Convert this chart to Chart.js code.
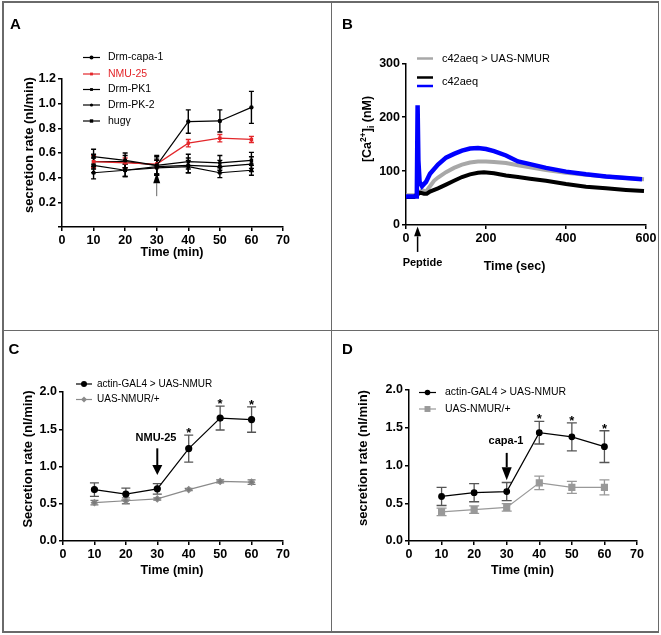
<!DOCTYPE html>
<html>
<head>
<meta charset="utf-8">
<script src="https://cdn.jsdelivr.net/npm/chart.js@4.4.1/dist/chart.umd.min.js"></script>
<style>
  body { margin: 0; background: #fff; }
  #fig { position: relative; width: 661px; height: 635px; overflow: hidden; }
  #fig canvas { position: absolute; left: 0; top: 0; }
  .rule { position: absolute; background: #6a6a6a; }
</style>
</head>
<body>
<div id="fig">
  <div class="rule" style="left:2px;top:1px;width:657px;height:1.5px"></div>
  <div class="rule" style="left:2px;top:631px;width:657px;height:1.5px"></div>
  <div class="rule" style="left:2px;top:1px;width:1.5px;height:632px"></div>
  <div class="rule" style="left:657.5px;top:1px;width:1.5px;height:632px"></div>
  <div class="rule" style="left:330.5px;top:1px;width:1.5px;height:632px"></div>
  <div class="rule" style="left:2px;top:329.5px;width:657px;height:1.5px"></div>
  <canvas id="chartA" width="661" height="635"></canvas>
  <canvas id="chartB" width="661" height="635"></canvas>
  <canvas id="chartC" width="661" height="635"></canvas>
  <canvas id="chartD" width="661" height="635"></canvas>
</div>
<script>
// ---- data ----
const minutes = [10, 20, 30, 40, 50, 60]

// A: secretion rate per peptide
const capa1 = [0.57, 0.54, 0.50, 0.855, 0.86, 0.97]
const capa1Err = [0.06, 0.06, 0.08, 0.095, 0.09, 0.13]
const nmu25 = [0.53, 0.52, 0.51, 0.68, 0.72, 0.71]
const nmu25Err = [0.05, 0.04, 0.03, 0.03, 0.03, 0.025]
const pk1 = [0.53, 0.53, 0.50, 0.53, 0.52, 0.54]
const pk1Err = [0.06, 0.05, 0.07, 0.06, 0.06, 0.065]
const pk2 = [0.50, 0.46, 0.49, 0.50, 0.49, 0.51]
const pk2Err = [0.06, 0.05, 0.06, 0.06, 0.05, 0.06]
const hugG = [0.44, 0.46, 0.48, 0.49, 0.44, 0.46]
const hugGErr = [0.05, 0.05, 0.06, 0.05, 0.04, 0.04]

// B: [Ca2+]i traces (sec, nM)
const blueSec = [0, 10, 20, 27, 29, 31, 34, 40, 50, 60, 80, 100, 120, 140, 160, 180, 200, 220, 250, 280, 310, 350, 400, 450, 500, 550, 590]
const blueCa = [53, 53, 53, 53, 222, 120, 80, 72, 80, 95, 112, 125, 132, 138, 142, 143, 141, 137, 129, 118, 113, 106, 99, 94, 90, 87, 85]
const greySec = [0, 20, 30, 40, 50, 60, 70, 80, 100, 120, 140, 160, 180, 200, 220, 250, 280, 310, 350, 400, 450, 500, 550, 595]
const greyCa = [55, 55, 58, 65, 62, 72, 82, 88, 98, 106, 112, 116, 118, 118, 117, 115, 111, 107, 102, 97, 93, 90, 87, 85]
const blackSec = [0, 20, 35, 45, 52, 60, 80, 100, 120, 140, 160, 180, 195, 220, 250, 280, 310, 350, 400, 450, 500, 550, 595]
const blackCa = [52, 52, 60, 58, 58, 62, 68, 75, 82, 89, 94, 97, 98, 96, 92, 89, 86, 82, 76, 71, 68, 65, 63]

// C: NMU-25
const cActin = [0.69, 0.63, 0.70, 1.24, 1.65, 1.63]
const cActinErr = [0.09, 0.08, 0.07, 0.18, 0.16, 0.17]
const cUas = [0.515, 0.54, 0.565, 0.69, 0.80, 0.79]
const cUasErr = [0.03, 0.04, 0.015, 0.015, 0.02, 0.03]

// D: capa-1
const dActin = [0.59, 0.64, 0.655, 1.435, 1.38, 1.25]
const dActinErr = [0.12, 0.12, 0.12, 0.15, 0.185, 0.21]
const dUas = [0.385, 0.415, 0.445, 0.77, 0.71, 0.71]
const dUasErr = [0.05, 0.05, 0.05, 0.09, 0.08, 0.10]

// ---- layout helpers ----
const FONT = '"Liberation Sans", Arial, sans-serif'
const W = 661, H = 635
const AXIS_W = 50, AXIS_H = 30

const pts = (xs, ys) => xs.map((x, i) => ({ x: x, y: ys[i] }))

function layoutFor(area) {
  return { padding: { left: area.left - AXIS_W, top: area.top, right: W - area.right, bottom: H - area.bottom - AXIS_H } }
}

function makeScales(xMax, xStep, yMax, yStep, yLabel) {
  const tickFont = { family: FONT, size: 12.5, weight: 'bold' }
  const border = { display: true, color: '#000', width: 1.5 }
  const grid = { display: true, drawOnChartArea: false, drawTicks: true, tickLength: 4, color: '#000', lineWidth: 1.5 }
  return {
    x: {
      type: 'linear', min: 0, max: xMax, border: border, grid: grid,
      ticks: { stepSize: xStep, font: tickFont, color: '#000', padding: 2, maxRotation: 0, autoSkip: false },
      afterFit: (s) => { s.height = AXIS_H },
    },
    y: {
      type: 'linear', min: 0, max: yMax, border: border, grid: grid,
      ticks: { stepSize: yStep, font: tickFont, color: '#000', padding: 2, callback: yLabel },
      afterFit: (s) => { s.width = AXIS_W },
    },
  }
}

function marker(ctx, style, r, x, y, color) {
  ctx.fillStyle = color
  ctx.strokeStyle = color
  Chart.helpers.drawPoint(ctx, { pointStyle: style, radius: r, borderWidth: 0, rotation: 0 }, x, y)
}

// error bars, arrows, stars, titles and legends
const figurePlugin = {
  id: 'figure',
  beforeDatasetsDraw(chart) {
    const { ctx, scales: { x, y } } = chart
    chart.data.datasets.forEach((ds) => {
      if (!ds.errors) return
      ctx.save()
      ctx.strokeStyle = ds.errorColor
      ctx.lineWidth = ds.errorWidth || 1.3
      ds.data.forEach((p, j) => {
        const px = x.getPixelForValue(p.x)
        const top = y.getPixelForValue(p.y + ds.errors[j])
        const bot = y.getPixelForValue(p.y - ds.errors[j])
        const c = ds.capHalf || 3
        ctx.beginPath()
        ctx.moveTo(px, top); ctx.lineTo(px, bot)
        ctx.moveTo(px - c, top); ctx.lineTo(px + c, top)
        ctx.moveTo(px - c, bot); ctx.lineTo(px + c, bot)
        ctx.stroke()
      })
      ctx.restore()
    })
  },
  afterDraw(chart, args, o) {
    const { ctx, scales: { x, y } } = chart
    ctx.save()
    ctx.fillStyle = '#000'

    // panel letter
    ctx.font = 'bold 15px ' + FONT
    ctx.textAlign = 'left'
    ctx.textBaseline = 'alphabetic'
    ctx.fillText(o.letter.text, o.letter.x, o.letter.y)

    // x title
    ctx.font = 'bold 12.5px ' + FONT
    ctx.textAlign = 'center'
    ctx.textBaseline = 'middle'
    ctx.fillText(o.xTitle.text, o.xTitle.x, o.xTitle.y)

    // y title (rotated), may have super/subscript parts
    ctx.save()
    ctx.translate(o.yTitle.x, o.yTitle.y)
    ctx.rotate(-Math.PI / 2)
    const parts = o.yTitle.parts || [[o.yTitle.text, 13, 0]]
    let total = 0
    parts.forEach((p) => { ctx.font = 'bold ' + p[1] + 'px ' + FONT; total += ctx.measureText(p[0]).width })
    let tx = -total / 2
    ctx.textAlign = 'left'
    ctx.textBaseline = o.yTitle.parts ? 'alphabetic' : 'middle'
    parts.forEach((p) => {
      ctx.font = 'bold ' + p[1] + 'px ' + FONT
      ctx.fillText(p[0], tx, p[2])
      tx += ctx.measureText(p[0]).width
    })
    ctx.restore()

    // legend
    const lg = o.legend
    lg.rows.forEach((row) => {
      row.lines.forEach((ln) => {
        ctx.strokeStyle = ln.color
        ctx.lineWidth = ln.width
        ctx.beginPath()
        ctx.moveTo(lg.x0, ln.y); ctx.lineTo(lg.x1, ln.y)
        ctx.stroke()
        if (ln.marker) marker(ctx, ln.marker, ln.r, (lg.x0 + lg.x1) / 2, ln.y, ln.color)
      })
      ctx.fillStyle = row.color || '#000'
      ctx.font = lg.font + 'px ' + FONT
      ctx.textAlign = 'left'
      ctx.textBaseline = 'middle'
      ctx.fillText(row.text, lg.textX, row.y)
    })

    // arrows at data positions
    ;(o.arrows || []).forEach((a) => {
      const px = x.getPixelForValue(a.x)
      const tip = y.getPixelForValue(a.tip)
      const base = y.getPixelForValue(a.base)
      const tail = y.getPixelForValue(a.tail)
      ctx.strokeStyle = a.shaftColor
      ctx.lineWidth = a.shaftW
      ctx.beginPath()
      ctx.moveTo(px, tail); ctx.lineTo(px, base)
      ctx.stroke()
      ctx.fillStyle = '#000'
      ctx.beginPath()
      ctx.moveTo(px, tip)
      ctx.lineTo(px - a.headW / 2, base)
      ctx.lineTo(px + a.headW / 2, base)
      ctx.closePath()
      ctx.fill()
    })

    // notes
    ;(o.notes || []).forEach((n) => {
      ctx.fillStyle = '#000'
      ctx.font = 'bold ' + n.size + 'px ' + FONT
      ctx.textAlign = 'center'
      ctx.textBaseline = 'alphabetic'
      ctx.fillText(n.text, n.x, n.y)
    })

    // significance stars above error bars of the first dataset
    if (o.stars) {
      const ds = chart.data.datasets[0]
      ctx.fillStyle = '#000'
      ctx.font = 'bold 13px ' + FONT
      ctx.textAlign = 'center'
      ctx.textBaseline = 'alphabetic'
      o.stars.forEach((j) => {
        const p = ds.data[j]
        ctx.fillText('*', x.getPixelForValue(p.x), y.getPixelForValue(p.y + ds.errors[j]) + 2)
      })
    }
    ctx.restore()
  },
}

function baseOptions(area, scales, fig) {
  return {
    responsive: false,
    animation: false,
    events: [],
    layout: layoutFor(area),
    elements: { line: { tension: 0 } },
    plugins: { legend: { display: false }, tooltip: { enabled: false }, figure: fig },
    scales: scales,
  }
}

const oneDecimal = (v) => v.toFixed(1)

// ---- panel A ----
const RED = '#e3262a'
function aSet(label, vals, errs, color, style) {
  return {
    label: label, data: pts(minutes, vals), errors: errs, errorColor: color, errorWidth: 1.4, capHalf: 2.5,
    borderColor: color, backgroundColor: color, borderWidth: 1.2, pointRadius: 1.6, pointStyle: style,
  }
}
new Chart(document.getElementById('chartA'), {
  type: 'line',
  data: {
    datasets: [
      aSet('Drm-capa-1', capa1, capa1Err, '#000', 'circle'),
      aSet('NMU-25', nmu25, nmu25Err, RED, 'rect'),
      aSet('Drm-PK1', pk1, pk1Err, '#000', 'rect'),
      aSet('Drm-PK-2', pk2, pk2Err, '#000', 'circle'),
      aSet('hugγ', hugG, hugGErr, '#000', 'rect'),
    ],
  },
  options: baseOptions(
    { left: 62, right: 283, top: 79, bottom: 227 },
    makeScales(70, 10, 1.2, 0.2, (v) => (v === 0 ? '' : v.toFixed(1))),
    {
      letter: { text: 'A', x: 10, y: 28.5 },
      xTitle: { text: 'Time (min)', x: 172, y: 253 },
      yTitle: { text: 'secretion rate (nl/min)', x: 29, y: 145 },
      legend: {
        x0: 83, x1: 100, textX: 108, font: 10.5,
        rows: [
          { text: 'Drm-capa-1', y: 57.5, lines: [{ y: 57.5, color: '#000', width: 1.2, marker: 'circle', r: 2 }] },
          { text: 'NMU-25', y: 74, color: RED, lines: [{ y: 74, color: RED, width: 1.2, marker: 'rect', r: 2 }] },
          { text: 'Drm-PK1', y: 89.5, lines: [{ y: 89.5, color: '#000', width: 1.2, marker: 'rect', r: 2 }] },
          { text: 'Drm-PK-2', y: 105, lines: [{ y: 105, color: '#000', width: 1.2, marker: 'circle', r: 1.6 }] },
          { text: 'hugγ', y: 121, lines: [{ y: 121, color: '#000', width: 1.2, marker: 'rect', r: 2.4 }] },
        ],
      },
      arrows: [{ x: 30, tip: 0.44, base: 0.355, tail: 0.25, headW: 7, shaftW: 1, shaftColor: '#666' }],
    }
  ),
  plugins: [figurePlugin],
})

// ---- panel B ----
new Chart(document.getElementById('chartB'), {
  type: 'line',
  data: {
    datasets: [
      { label: 'c42aeq', data: pts(blueSec, blueCa), borderColor: '#0000ff', borderWidth: 4.5, pointRadius: 0 },
      { label: 'c42aeq', data: pts(blackSec, blackCa), borderColor: '#000', borderWidth: 4, pointRadius: 0 },
      { label: 'c42aeq > UAS-NMUR', data: pts(greySec, greyCa), borderColor: '#a8a8a8', borderWidth: 4, pointRadius: 0 },
    ],
  },
  options: baseOptions(
    { left: 406, right: 646, top: 63.3, bottom: 225 },
    makeScales(600, 200, 300, 100, (v) => String(v)),
    {
      letter: { text: 'B', x: 342, y: 28.5 },
      xTitle: { text: 'Time (sec)', x: 514.5, y: 267 },
      yTitle: { x: 371, y: 129, parts: [['[Ca', 12.5, 0], ['2+', 8.5, -5], [']', 12.5, 0], ['i', 8.5, 3], [' (nM)', 12.5, 0]] },
      legend: {
        x0: 417, x1: 433, textX: 442, font: 11,
        rows: [
          { text: 'c42aeq > UAS-NMUR', y: 58.5, lines: [{ y: 58.5, color: '#a8a8a8', width: 2.5 }] },
          { text: 'c42aeq', y: 82, lines: [{ y: 77.5, color: '#000', width: 2.5 }, { y: 86, color: '#0000ff', width: 2.5 }] },
        ],
      },
      arrows: [{ x: 29, tip: -3, base: -21, tail: -50, headW: 7, shaftW: 1.5, shaftColor: '#000' }],
      notes: [{ text: 'Peptide', x: 422.5, y: 265.5, size: 11 }],
    }
  ),
  plugins: [figurePlugin],
})

// ---- panel C ----
new Chart(document.getElementById('chartC'), {
  type: 'line',
  data: {
    datasets: [
      {
        label: 'actin-GAL4 > UAS-NMUR', data: pts(minutes, cActin), errors: cActinErr, errorColor: '#555', capHalf: 4.5,
        borderColor: '#000', backgroundColor: '#000', borderWidth: 1.2, pointRadius: 3, pointStyle: 'circle',
      },
      {
        label: 'UAS-NMUR/+', data: pts(minutes, cUas), errors: cUasErr, errorColor: '#777', capHalf: 4,
        borderColor: '#8a8a8a', backgroundColor: '#7a7a7a', borderWidth: 1.2, pointRadius: 3, pointStyle: 'rectRot',
      },
    ],
  },
  options: baseOptions(
    { left: 63, right: 283, top: 392, bottom: 541 },
    makeScales(70, 10, 2, 0.5, oneDecimal),
    {
      letter: { text: 'C', x: 8.5, y: 353.5 },
      xTitle: { text: 'Time (min)', x: 172, y: 571 },
      yTitle: { text: 'Secretion rate (nl/min)', x: 28, y: 459 },
      legend: {
        x0: 76, x1: 92, textX: 97, font: 10,
        rows: [
          { text: 'actin-GAL4 > UAS-NMUR', y: 384, lines: [{ y: 384, color: '#000', width: 1.2, marker: 'circle', r: 3 }] },
          { text: 'UAS-NMUR/+', y: 399.5, lines: [{ y: 399.5, color: '#8a8a8a', width: 1.2, marker: 'rectRot', r: 3 }] },
        ],
      },
      arrows: [{ x: 30, tip: 0.886, base: 1.02, tail: 1.244, headW: 10, shaftW: 2, shaftColor: '#000' }],
      notes: [{ text: 'NMU-25', x: 156, y: 441, size: 11 }],
      stars: [3, 4, 5],
    }
  ),
  plugins: [figurePlugin],
})

// ---- panel D ----
new Chart(document.getElementById('chartD'), {
  type: 'line',
  data: {
    datasets: [
      {
        label: 'actin-GAL4 > UAS-NMUR', data: pts(minutes, dActin), errors: dActinErr, errorColor: '#555', capHalf: 5,
        borderColor: '#000', backgroundColor: '#000', borderWidth: 1.2, pointRadius: 2.8, pointStyle: 'circle',
      },
      {
        label: 'UAS-NMUR/+', data: pts(minutes, dUas), errors: dUasErr, errorColor: '#999', capHalf: 5,
        borderColor: '#999', backgroundColor: '#999', borderWidth: 1.2, pointRadius: 4.2, pointStyle: 'rect',
      },
    ],
  },
  options: baseOptions(
    { left: 409, right: 637, top: 390, bottom: 541 },
    makeScales(70, 10, 2, 0.5, oneDecimal),
    {
      letter: { text: 'D', x: 342, y: 353.5 },
      xTitle: { text: 'Time (min)', x: 522.5, y: 571 },
      yTitle: { text: 'secretion rate (nl/min)', x: 363, y: 458 },
      legend: {
        x0: 419, x1: 436, textX: 445, font: 10.5,
        rows: [
          { text: 'actin-GAL4 > UAS-NMUR', y: 392.5, lines: [{ y: 392.5, color: '#000', width: 1.2, marker: 'circle', r: 2.8 }] },
          { text: 'UAS-NMUR/+', y: 409, lines: [{ y: 409, color: '#999', width: 1.2, marker: 'rect', r: 4.2 }] },
        ],
      },
      arrows: [{ x: 30, tip: 0.805, base: 0.977, tail: 1.167, headW: 10, shaftW: 2, shaftColor: '#000' }],
      notes: [{ text: 'capa-1', x: 506, y: 444, size: 11 }],
      stars: [3, 4, 5],
    }
  ),
  plugins: [figurePlugin],
})
</script>
</body>
</html>
